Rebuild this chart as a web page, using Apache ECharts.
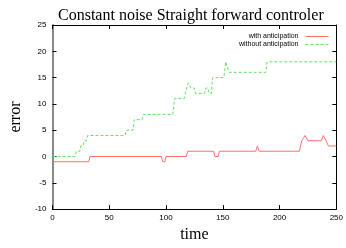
<!DOCTYPE html>
<html>
<head>
<meta charset="utf-8">
<script src="https://cdn.jsdelivr.net/npm/echarts@6/dist/echarts.min.js"></script>
<style>
  html, body { margin: 0; padding: 0; background: #fff; }
  #chart { width: 346px; height: 248px; }
</style>
</head>
<body>
<div id="chart"></div>
<script>
// without anticipation (green, dashed)
const greenTime = [0, 20, 21, 24, 25, 27, 28, 30, 31, 64, 65, 71, 72, 79, 80, 106, 107.5, 116, 117, 118, 119.5, 121, 122, 125, 126, 134, 135, 137, 138, 140, 141, 151, 152.5, 154, 155.5, 188, 189, 250]
const greenErr  = [0, 0, 1, 1, 2, 2, 3, 3, 4, 4, 5, 5, 7, 7, 8, 8, 11, 11, 12, 12, 14, 14, 13, 13, 12, 12, 13, 13, 12, 12, 15, 15, 18, 18, 16, 16, 18, 18]

// with anticipation (red, solid)
const redTime = [0, 32, 33, 96, 97, 99, 100, 118, 119, 142, 143, 146, 147, 179, 180.5, 182, 217.5, 219.5, 221, 222.5, 223.5, 225, 237, 238.5, 239.5, 241, 242, 243, 250]
const redErr  = [-1, -1, 0, 0, -1, -1, 0, 0, 1, 1, 0, 0, 1, 1, 2, 1, 1, 3, 3, 4, 4, 3, 3, 4, 4, 3, 3, 2, 2]

const xMin = 0, xMax = 250, xStep = 50
const yMin = -10, yMax = 25, yStep = 5

const pairs = (xs, ys) => xs.map((x, i) => [x, ys[i]])

const chart = echarts.init(document.getElementById('chart'))

const labelFont = { fontFamily: 'Liberation Sans', fontSize: 8, color: '#000' }
const serif = 'Liberation Serif'

chart.setOption({
  animation: false,
  title: {
    text: 'Constant noise Straight forward controler',
    left: 53,
    top: 3,
    textStyle: { fontFamily: serif, fontSize: 16, fontWeight: 'normal', color: '#000' }
  },
  legend: {
    right: 12,
    top: 28,
    orient: 'vertical',
    align: 'right',
    itemWidth: 23,
    itemHeight: 6,
    itemGap: 1,
    itemStyle: { opacity: 0 },
    lineStyle: { width: 1 },
    textStyle: { fontFamily: 'Liberation Sans', fontSize: 7, color: '#000', padding: [0, 2, 0, 0] },
    data: ['with anticipation', 'without anticipation']
  },
  grid: { left: 42, right: 3, top: 25, bottom: 25 },
  xAxis: [
    {
      type: 'value', min: xMin, max: xMax, interval: xStep,
      name: 'time', nameLocation: 'middle', nameGap: 16,
      nameTextStyle: { fontFamily: serif, fontSize: 16, color: '#000' },
      axisLine: { onZero: false, lineStyle: { color: '#000', width: 1 } },
      axisTick: { inside: true, length: 4, lineStyle: { color: '#000' } },
      axisLabel: Object.assign({ margin: 5 }, labelFont),
      splitLine: { show: false }
    },
    {
      type: 'value', position: 'top', min: xMin, max: xMax, interval: xStep,
      axisLine: { show: true, onZero: false, lineStyle: { color: '#000', width: 1 } },
      axisTick: { inside: true, length: 4, lineStyle: { color: '#000' } },
      axisLabel: { show: false },
      splitLine: { show: false }
    }
  ],
  yAxis: [
    {
      type: 'value', min: yMin, max: yMax, interval: yStep,
      name: 'error', nameLocation: 'middle', nameGap: 22,
      nameTextStyle: { fontFamily: serif, fontSize: 16, color: '#000' },
      axisLine: { show: true, onZero: false, lineStyle: { color: '#888', width: 2 } },
      axisTick: { inside: true, length: 4, lineStyle: { color: '#000' } },
      axisLabel: Object.assign({ margin: 6 }, labelFont),
      splitLine: { show: false }
    },
    {
      type: 'value', position: 'right', min: yMin, max: yMax, interval: yStep,
      axisLine: { show: true, onZero: false, lineStyle: { color: '#000', width: 1 } },
      axisTick: { inside: true, length: 4, lineStyle: { color: '#000' } },
      axisLabel: { show: false },
      splitLine: { show: false }
    }
  ],
  series: [
    {
      name: 'with anticipation',
      type: 'line',
      symbol: 'none',
      data: pairs(redTime, redErr),
      itemStyle: { color: '#ff7070' },
      lineStyle: { color: '#ff7070', width: 1 }
    },
    {
      name: 'without anticipation',
      type: 'line',
      symbol: 'none',
      data: pairs(greenTime, greenErr),
      itemStyle: { color: '#66e066' },
      lineStyle: { color: '#66e066', width: 1, type: [3, 2] }
    }
  ]
})
</script>
</body>
</html>
